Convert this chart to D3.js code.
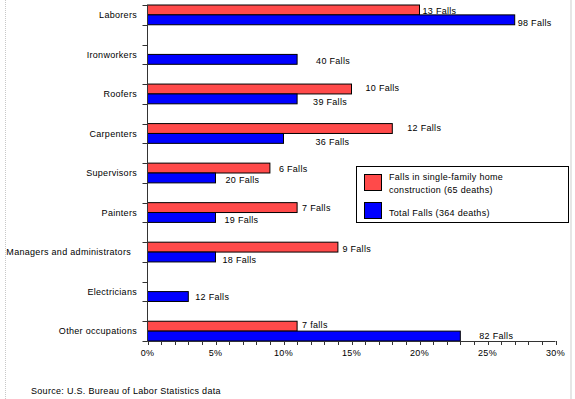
<!DOCTYPE html>
<html>
<head>
<meta charset="utf-8">
<script src="https://cdn.jsdelivr.net/npm/d3@7"></script>
<style>
  body { margin: 0; background: #fff; }
  svg text { font-family: Arial, "Liberation Sans", sans-serif; font-size: 9px; fill: #000; letter-spacing: 0.3px; }
</style>
</head>
<body>
<div id="chart"></div>
<script>
// occupations, top to bottom
var categories = ["Laborers", "Ironworkers", "Roofers", "Carpenters", "Supervisors",
  "Painters", "Managers and administrators", "Electricians", "Other occupations"];

// percent of falls (null = no bar)
var singleFamily = [20, null, 15, 18, 9, 11, 14, null, 11];
var totalFalls = [27, 11, 11, 10, 5, 5, 5, 3, 23];

var singleLabels = ["13 Falls", "", "10 Falls", "12 Falls", "6 Falls", "7 Falls", "9 Falls", "", "7 falls"];
var totalLabels = ["98 Falls", "40 Falls", "39 Falls", "36 Falls", "20 Falls", "19 Falls", "18 Falls", "12 Falls", "82 Falls"];

var xTicks = [0, 5, 10, 15, 20, 25, 30];

// label nudges [dx, dy] from the bar end, as the original placed them
var singleNudge = [[3, 1], [0, 0], [14, -1.5], [15, -1.3], [9, 1], [5, 0], [4.5, 1.3], [0, 0], [5, -1.7]];
var totalNudge = [[3, 3], [19, 1.6], [16, 3], [32, 3.7], [10, 1.3], [9, 1.8], [7, 2.3], [7, 0.5], [19, 0]];
// category label shift (one label sits a little left in the original)
var catNudge = [0, 0, 0, 0, 0, 0, -6, 0, 0];

var width = 575;
var height = 399;
var red = "#ff4a4a";
var blue = "#0000ff";

var svg = d3.select("#chart").append("svg")
  .attr("width", width)
  .attr("height", height);

// page edges
svg.append("line")
  .attr("x1", 5.5).attr("x2", 5.5).attr("y1", 0).attr("y2", height)
  .attr("stroke", "#c8c8c8").attr("stroke-dasharray", "1,1");
svg.append("line")
  .attr("x1", 571).attr("x2", 571).attr("y1", 0).attr("y2", height)
  .attr("stroke", "#e6e6e6").attr("stroke-width", 2);

var x = d3.scaleLinear()
  .domain([0, 30])
  .range([147.5, 555.5]);

var y = d3.scaleBand()
  .domain(categories)
  .range([5, 341])
  .paddingInner(0.5)
  .paddingOuter(0);

var bw = y.bandwidth();
var half = bw / 2;

// bars
var rows = categories.map(function (c, i) {
  return { cat: c, single: singleFamily[i], total: totalFalls[i], sl: singleLabels[i], tl: totalLabels[i], sn: singleNudge[i], tn: totalNudge[i], cn: catNudge[i] };
});

svg.selectAll(".bar-single")
  .data(rows.filter(function (d) { return d.single != null }))
  .enter()
  .append("rect")
  .attr("class", "bar-single")
  .attr("x", x(0))
  .attr("y", function (d) { return y(d.cat) })
  .attr("width", function (d) { return x(d.single) - x(0) })
  .attr("height", half)
  .attr("fill", red)
  .attr("stroke", "#000")
  .attr("stroke-width", 1);

svg.selectAll(".bar-total")
  .data(rows)
  .enter()
  .append("rect")
  .attr("class", "bar-total")
  .attr("x", x(0))
  .attr("y", function (d) { return y(d.cat) + half })
  .attr("width", function (d) { return x(d.total) - x(0) })
  .attr("height", half)
  .attr("fill", blue)
  .attr("stroke", "#000")
  .attr("stroke-width", 1);

// value labels
svg.selectAll(".lbl-single")
  .data(rows.filter(function (d) { return d.sl }))
  .enter()
  .append("text")
  .attr("class", "lbl-single")
  .attr("x", function (d) { return x(d.single) + d.sn[0] })
  .attr("y", function (d) { return y(d.cat) + half / 2 + 3.3 + d.sn[1] })
  .text(function (d) { return d.sl });

svg.selectAll(".lbl-total")
  .data(rows)
  .enter()
  .append("text")
  .attr("class", "lbl-total")
  .attr("x", function (d) { return x(d.total) + d.tn[0] })
  .attr("y", function (d) { return y(d.cat) + half * 1.5 + 3.3 + d.tn[1] })
  .text(function (d) { return d.tl });

// category axis
var axisColor = "#333";
svg.append("line")
  .attr("x1", x(0)).attr("x2", x(0))
  .attr("y1", 5).attr("y2", 341)
  .attr("stroke", axisColor);

var yTickPos = [];
categories.forEach(function (c) { yTickPos.push(y(c), y(c) + bw) });
svg.selectAll(".ytick")
  .data(yTickPos)
  .enter()
  .append("line")
  .attr("class", "ytick")
  .attr("x1", x(0) - 5).attr("x2", x(0))
  .attr("y1", function (d) { return Math.round(d) + 0.5 })
  .attr("y2", function (d) { return Math.round(d) + 0.5 })
  .attr("stroke", axisColor);

svg.selectAll(".ylabel")
  .data(rows)
  .enter()
  .append("text")
  .attr("class", "ylabel")
  .attr("x", function (d) { return 137 + d.cn })
  .attr("y", function (d) { return y(d.cat) + half + 3.3 })
  .attr("text-anchor", "end")
  .text(function (d) { return d.cat });

// value axis
svg.append("line")
  .attr("x1", x(0)).attr("x2", x(30))
  .attr("y1", 341.5).attr("y2", 341.5)
  .attr("stroke", axisColor);

svg.selectAll(".xtick")
  .data(d3.range(0, 31))
  .enter()
  .append("line")
  .attr("class", "xtick")
  .attr("x1", function (d) { return Math.round(x(d)) + 0.5 })
  .attr("x2", function (d) { return Math.round(x(d)) + 0.5 })
  .attr("y1", 341).attr("y2", 345)
  .attr("stroke", axisColor);

svg.selectAll(".xlabel")
  .data(xTicks)
  .enter()
  .append("text")
  .attr("class", "xlabel")
  .attr("x", function (d) { return x(d) })
  .attr("y", 356)
  .attr("text-anchor", "middle")
  .text(function (d) { return d + "%" });

// legend
var legend = svg.append("g");
legend.append("rect")
  .attr("x", 356.5).attr("y", 166.5)
  .attr("width", 212).attr("height", 56)
  .attr("fill", "#fff")
  .attr("stroke", "#000");

legend.append("rect")
  .attr("x", 364.5).attr("y", 174.5)
  .attr("width", 17).attr("height", 16)
  .attr("fill", red).attr("stroke", "#000");
legend.append("rect")
  .attr("x", 364.5).attr("y", 202.5)
  .attr("width", 17).attr("height", 16)
  .attr("fill", blue).attr("stroke", "#000");

legend.append("text").attr("x", 389).attr("y", 180).text("Falls in single-family home");
legend.append("text").attr("x", 389).attr("y", 192.5).text("construction (65 deaths)");
legend.append("text").attr("x", 389).attr("y", 215.5).text("Total Falls (364 deaths)");

svg.append("text")
  .attr("x", 31)
  .attr("y", 394)
  .text("Source: U.S. Bureau of Labor Statistics data");
</script>
</body>
</html>
